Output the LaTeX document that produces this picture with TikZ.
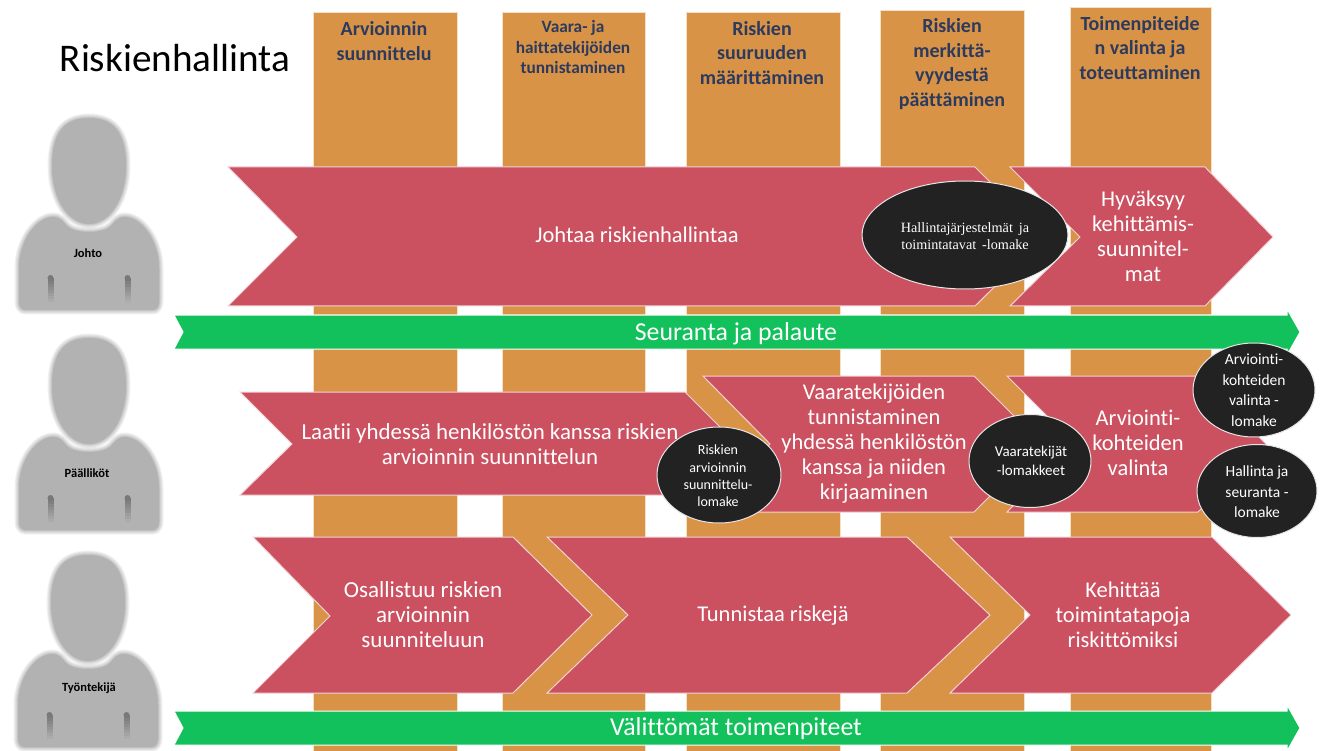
\documentclass[tikz,border=0pt]{standalone}
\usepackage{fontspec}
\setmainfont[Ligatures=NoCommon]{Carlito}
\newfontfamily\serifform{Liberation Serif}
\definecolor{barorange}{HTML}{D99346}
\definecolor{chevred}{HTML}{CB5060}
\definecolor{bandgreen}{HTML}{12C15B}
\definecolor{formblack}{HTML}{222222}
\definecolor{headnavy}{HTML}{2C3A5E}
\definecolor{persongray}{HTML}{B2B2B2}
\newcommand{\fs}[2]{\fontsize{#1}{#2}\selectfont}
\tikzset{
  x=1pt,y=-1pt,
  barshape/.style={fill=barorange,draw=white!70!barorange,line width=.6pt},
  chevshape/.style={fill=chevred,draw=white!75!chevred,line width=1pt,line join=miter},
  bandshape/.style={fill=bandgreen,draw=white,line width=1pt},
  formshape/.style={fill=formblack,draw=white!90!black,line width=1pt},
  headtext/.style={text=headnavy,align=center,font=\bfseries\fs{20}{24.5},inner sep=0pt},
  chevtext/.style={text=white,align=center,font=\fs{22.5}{25},inner sep=0pt},
  bandtext/.style={text=white,font=\fs{25.8}{28},inner sep=0pt},
  formtext/.style={text=white,align=center,font=\fs{15.5}{20.5},inner sep=0pt},
  persontext/.style={text=black,font=\bfseries\fs{12.5}{14},inner sep=0pt},
  person/.pic={
    \def\bodypath{(-64,192) .. controls (-68,192) and (-70,188) .. (-70,184) -- (-70,150)
      .. controls (-70,122) and (-52,99) .. (-36,99)
      .. controls (-28,99) and (-26,104) .. (-22,108)
      .. controls (-14,116) and (14,116) .. (22,108)
      .. controls (26,104) and (28,99) .. (36,99)
      .. controls (52,99) and (70,122) .. (70,150) -- (70,184)
      .. controls (70,188) and (68,192) .. (64,192) -- cycle}
    \def\headpath{(0,0) .. controls (24,0) and (37,14) .. (37,48)
      .. controls (37,82) and (20,106) .. (0,106)
      .. controls (-20,106) and (-37,82) .. (-37,48)
      .. controls (-37,14) and (-24,0) .. (0,0) -- cycle}
    \foreach \w in {9,7,5,3,1.5}{\draw[black,opacity=.05,line width=\w pt] \bodypath;}
    \fill[persongray] \bodypath;
    \foreach \w in {9,7,5,3,1.5}{\draw[black,opacity=.05,line width=\w pt] \headpath;}
    \fill[persongray] \headpath;
    \foreach \sx in {-38.5,38.5}{
      \fill[persongray!68!black] (\sx,160) circle[radius=3pt];
      \foreach \i in {0,...,8}{
        \pgfmathtruncatemacro{\mixp}{68+4*\i}
        \fill[persongray!\mixp!black] (\sx-3,160+3*\i) rectangle (\sx+3,163.2+3*\i);
      }
    }
  }
}
\begin{document}
\begin{tikzpicture}
\useasboundingbox (0,0) rectangle (1325,751);
\fill[white] (0,0) rectangle (1325,751);
% phase bars
\draw[barshape] (313,12) rectangle (457,751);
\draw[barshape] (502,12) rectangle (645,751);
\draw[barshape] (686,12) rectangle (840,751);
\draw[barshape] (880,10) rectangle (1024,751);
\draw[barshape] (1070,7) rectangle (1211,751);
% title
\node[inner sep=0pt,font=\fs{39.2}{42}] (title) at (175,58) {Riskienhallinta};
% bar headings
\node[headtext] (h1) at (384,41) {Arvioinnin\\suunnittelu};
\node[headtext,font=\bfseries\fs{17.3}{20.5}] (h2) at (573,47) {Vaara- ja\\haittatekijöiden\\tunnistaminen};
\node[headtext] (h3) at (762,53) {Riskien\\suuruuden\\määrittäminen};
\node[headtext] (h4) at (952,64) {Riskien\\merkittä-\\vyydestä\\päättäminen};
\node[headtext] (h5) at (1140,48) {Toimenpiteide\\n valinta ja\\toteuttaminen};
% persons
\pic (p1) at (89,118) {person};
\pic (p2) at (89,338) {person};
\pic (p3) at (88,555) {person};
\node[persontext] (johto) at (88,253) {Johto};
\node[persontext] (paal) at (87,473) {Päälliköt};
\node[persontext] (tyon) at (89,688) {Työntekijä};
% row 1
\draw[chevshape] (228,167) -- (975,167) -- (1045,237) -- (975,306) -- (228,306) -- (297,237) -- cycle;
\draw[chevshape] (1010,167) -- (1205,167) -- (1273,237) -- (1205,306) -- (1010,306) -- (1080,237) -- cycle;
\node[chevtext] (c1) at (637,235) {Johtaa riskienhallintaa};
\node[chevtext] (c2) at (1143,236) {Hyväksyy\\kehittämis-\\suunnitel-\\mat};
% band 1
\draw[bandshape] (174,315) -- (1287,315) -- (1287,309) -- (1300,332) -- (1287,355) -- (1287,349) -- (174,349) -- (183,332) -- cycle;
\node[bandtext] (b1) at (736,334) {Seuranta ja palaute};
% row 2
\draw[chevshape] (240,392) -- (685,392) -- (737,444) -- (685,495) -- (240,495) -- (292,444) -- cycle;
\draw[chevshape] (703,376) -- (974,376) -- (1042,444) -- (974,512) -- (703,512) -- (770,444) -- cycle;
\draw[chevshape] (1007,376) -- (1198,376) -- (1266,444) -- (1198,512) -- (1007,512) -- (1075,444) -- cycle;
\node[chevtext,font=\fs{22.9}{25}] (c3) at (490,444) {Laatii yhdessä henkilöstön kanssa riskien\\arvioinnin suunnittelun};
\node[chevtext] (c4) at (874,444) {Vaaratekijöiden\\tunnistaminen\\yhdessä henkilöstön\\kanssa ja niiden\\kirjaaminen};
\node[chevtext] (c5) at (1138,443) {Arviointi-\\kohteiden\\valinta};
% row 3
\draw[chevshape] (253,537) -- (513,537) -- (592,615) -- (513,693) -- (253,693) -- (330,616) -- cycle;
\draw[chevshape] (547,537) -- (907,537) -- (990,615) -- (907,693) -- (547,693) -- (628,615) -- cycle;
\draw[chevshape] (950,537) -- (1212,537) -- (1291,615) -- (1212,693) -- (950,693) -- (1030,615) -- cycle;
\node[chevtext,font=\fs{23}{25}] (c6) at (423,615) {Osallistuu riskien\\arvioinnin\\suunniteluun};
\node[chevtext] (c7) at (773,616) {Tunnistaa riskejä};
\node[chevtext] (c8) at (1123,615) {Kehittää\\toimintatapoja\\riskittömiksi};
% band 2
\draw[bandshape] (174,711) -- (1287,711) -- (1287,705) -- (1300,728) -- (1287,751) -- (1287,745) -- (174,745) -- (183,728) -- cycle;
\node[bandtext] (b2) at (736,729) {Välittömät toimenpiteet};
% form ellipses
\draw[formshape] (965,235) ellipse[x radius=103,y radius=54];
\node[text=white,align=center,inner sep=0pt,font=\serifform\fs{14.2}{17}] (f1) at (965,236) {Hallintajärjestelmät\, ja\\toimintatavat\, -lomake};
\draw[formshape] (719,475) ellipse[x radius=62,y radius=48];
\node[formtext,font=\fs{14}{17.4}] (f2) at (718,476) {Riskien\\arvioinnin\\suunnittelu-\\lomake};
\draw[formshape] (1030,461) ellipse[x radius=61,y radius=46.5];
\node[formtext,font=\fs{15}{19}] (f3) at (1031,461) {Vaaratekijät\\-lomakkeet};
\draw[formshape] (1254,390) ellipse[x radius=61,y radius=47];
\node[formtext] (f4) at (1254,390) {Arviointi-\\kohteiden\\valinta -\\lomake};
\draw[formshape] (1257,491) ellipse[x radius=60,y radius=46.5];
\node[formtext] (f5) at (1257,492) {Hallinta ja\\seuranta -\\lomake};
\end{tikzpicture}
\end{document}
